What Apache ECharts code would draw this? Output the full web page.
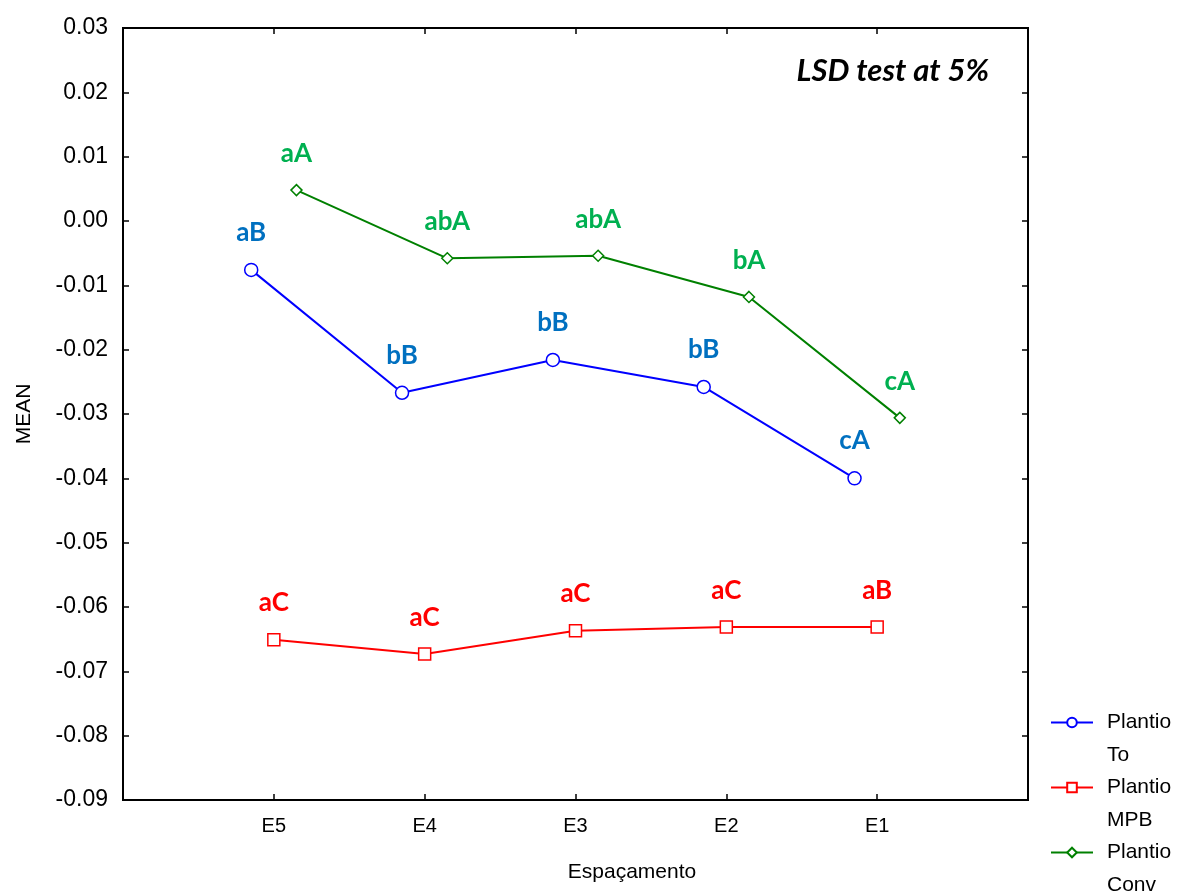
<!DOCTYPE html>
<html>
<head>
<meta charset="utf-8">
<script src="https://cdn.jsdelivr.net/npm/echarts@6/dist/echarts.min.js"></script>
<style>
html, body { margin: 0; padding: 0; background: #fff; }
#chart { width: 1185px; height: 893px; }
</style>
</head>
<body>
<div id="chart"></div>
<script>
// categorias (espaçamento)
const categories = ['E5', 'E4', 'E3', 'E2', 'E1'];
const yTicks = [-0.09, 0.03, 0.01]; // min, max, intervalo

// médias
const plantioTo = [-0.0076, -0.0267, -0.0216, -0.0258, -0.0400];
const plantioMPB = [-0.0651, -0.0673, -0.0637, -0.0631, -0.0631];
const plantioConv = [0.0048, -0.0058, -0.0054, -0.0118, -0.0306];

// letras do teste LSD
const lettersTo = ['aB', 'bB', 'bB', 'bB', 'cA'];
const lettersMPB = ['aC', 'aC', 'aC', 'aC', 'aB'];
const lettersConv = ['aA', 'abA', 'abA', 'bA', 'cA'];

const letterFont = { fontFamily: 'Lato', fontWeight: 'bold', fontSize: 26 };
const tickStyle = { show: true, inside: true, length: 6, lineStyle: { color: '#000', width: 1.5 } };
const frameLine = { show: true, onZero: false, lineStyle: { color: '#000', width: 2 } };

function makeSeries(name, values, letters, offset, lineColor, labelColor, symbol, symbolSize) {
    return {
        name: name,
        type: 'line',
        data: values.map((v, i) => [i + 1 + offset, v]),
        symbol: symbol,
        symbolSize: symbolSize,
        showAllSymbol: true,
        lineStyle: { color: lineColor, width: 2 },
        itemStyle: { color: '#fff', borderColor: lineColor, borderWidth: 1.5 },
        label: {
            show: true,
            position: 'top',
            distance: 17,
            color: labelColor,
            ...letterFont,
            formatter: p => letters[p.dataIndex]
        },
        emphasis: { disabled: true },
        z: 3
    };
}

let chart = echarts.init(document.getElementById('chart'));
let option = {
    backgroundColor: '#fff',
    animation: false,
    grid: {
        left: 123,
        right: 157,
        top: 28,
        bottom: 93,
        show: true,
        borderColor: '#000',
        borderWidth: 2,
        backgroundColor: 'transparent'
    },
    title: {
        text: 'LSD test at 5%',
        right: 191,
        top: 50,
        textStyle: {
            fontFamily: 'Lato',
            fontStyle: 'italic',
            fontWeight: 'bold',
            fontSize: 31,
            color: '#000'
        }
    },
    legend: {
        orient: 'vertical',
        left: 1045,
        top: 707,
        height: 260,
        itemWidth: 42,
        itemHeight: 12,
        itemGap: 11,
        data: ['Plantio\nTo', 'Plantio\nMPB', 'Plantio\nConv'],
        formatter: name => name.split('\n').map(s => '{t|' + s + '}').join('\n'),
        textStyle: {
            color: '#000',
            padding: [33, 0, 0, 9],
            rich: {
                t: {
                    fontFamily: 'Liberation Sans',
                    fontSize: 21,
                    lineHeight: 33,
                    color: '#000'
                }
            }
        }
    },
    xAxis: [{
        type: 'value',
        min: 0,
        max: categories.length + 1,
        interval: 1,
        position: 'bottom',
        name: 'Espaçamento',
        nameLocation: 'middle',
        nameGap: 62,
        nameTextStyle: {
            fontFamily: 'Liberation Sans',
            fontSize: 21,
            color: '#000',
            padding: [0, 0, 0, 113]
        },
        axisLine: frameLine,
        axisTick: tickStyle,
        axisLabel: {
            fontFamily: 'Liberation Sans',
            fontSize: 20,
            color: '#000',
            margin: 16,
            formatter: v => categories[v - 1] || ''
        },
        splitLine: { show: false }
    }, {
        type: 'value',
        min: 0,
        max: categories.length + 1,
        interval: 1,
        position: 'top',
        axisLine: frameLine,
        axisTick: tickStyle,
        axisLabel: { show: false },
        splitLine: { show: false }
    }],
    yAxis: [{
        type: 'value',
        min: yTicks[0],
        max: yTicks[1],
        interval: yTicks[2],
        position: 'left',
        name: 'MEAN',
        nameLocation: 'middle',
        nameGap: 88,
        nameTextStyle: {
            fontFamily: 'Liberation Sans',
            fontSize: 21,
            color: '#000'
        },
        axisLine: frameLine,
        axisTick: tickStyle,
        axisLabel: {
            fontFamily: 'Liberation Sans',
            fontSize: 23,
            color: '#000',
            margin: 15,
            formatter: v => v.toFixed(2)
        },
        splitLine: { show: false }
    }, {
        type: 'value',
        min: yTicks[0],
        max: yTicks[1],
        interval: yTicks[2],
        position: 'right',
        axisLine: frameLine,
        axisTick: tickStyle,
        axisLabel: { show: false },
        splitLine: { show: false }
    }],
    series: [
        makeSeries('Plantio\nTo', plantioTo, lettersTo, -0.15, '#0000FF', '#0070C0', 'circle', 13),
        makeSeries('Plantio\nMPB', plantioMPB, lettersMPB, 0, '#FF0000', '#FF0000', 'rect', 12),
        makeSeries('Plantio\nConv', plantioConv, lettersConv, 0.15, '#008000', '#00B050', 'diamond', 11)
    ]
};
chart.setOption(option, { notMerge: true });
window.addEventListener('resize', () => {
    chart.resize();
});
</script>
</body>
</html>
